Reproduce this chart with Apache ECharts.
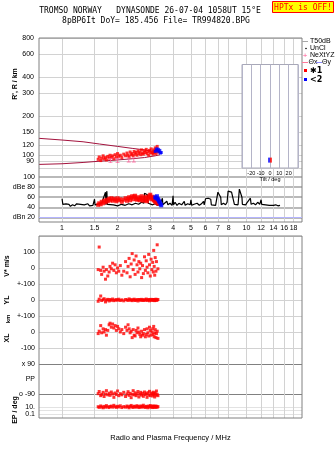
<!DOCTYPE html>
<html>
<head>
<meta charset="utf-8">
<script src="https://cdn.jsdelivr.net/npm/echarts@6/dist/echarts.min.js"></script>
<style>
  html, body { margin: 0; padding: 0; background: #fff; }
  #chart { width: 335px; height: 451px; }
</style>
</head>
<body>
<div id="chart"></div>
<script>
// axis ticks
const freqTicks = [1, 1.5, 2, 3, 4, 5, 6, 7, 8, 10, 12, 14, 16, 18];
const rangeTicks = [80, 90, 100, 120, 150, 200, 300, 400, 600, 800];
const ampTicks = [20, 40, 60, 80, 100];

// model curves in the R panel
const curveFreq = [0.75, 1.0, 1.3, 1.6, 2.0, 2.4, 2.8, 3.2, 3.4];
const upperCurveR = [135, 131, 127, 122, 117, 113, 110, 107, 106];
const lowerCurveR = [85, 86, 88, 90, 92, 94, 96, 99, 101];

// echoes of trace 1 (red)
const echoFreq = [
  1.57, 1.59, 1.62, 1.64, 1.67, 1.69, 1.72, 1.74, 1.77, 1.80,
  1.82, 1.85, 1.88, 1.91, 1.94, 1.97, 2.00, 2.03, 2.07, 2.11,
  2.16, 2.21, 2.25, 2.28, 2.31, 2.34, 2.37, 2.40, 2.43, 2.46,
  2.49, 2.52, 2.55, 2.58, 2.61, 2.64, 2.67, 2.70, 2.73, 2.76,
  2.80, 2.83, 2.86, 2.89, 2.92, 2.95, 2.98, 3.01, 3.04, 3.07,
  3.10, 3.12, 3.14, 3.16, 3.18, 3.20, 3.23, 3.25, 3.28, 3.31
];
const echoRange = [
  93, 97, 91, 95, 99, 94, 96, 92, 98, 95,
  100, 96, 99, 94, 101, 97, 103, 98, 100, 96,
  102, 99, 104, 100, 97, 106, 101, 103, 99, 107,
  102, 105, 100, 108, 103, 106, 101, 110, 104, 102,
  108, 105, 111, 103, 107, 100, 109, 105, 112, 104,
  106, 102, 110, 105, 108, 114, 103, 109, 117, 106
];
const echoAmp = [
  45, 48, 46, 51, 48, 53, 50, 55, 52, 57,
  54, 58, 53, 57, 55, 52, 58, 54, 56, 51,
  55, 58, 53, 57, 60, 54, 59, 62, 56, 61,
  63, 57, 55, 60, 56, 54, 59, 62, 55, 53,
  58, 61, 54, 52, 57, 60, 63, 65, 59, 56,
  61, 57, 54, 58, 53, 51, 56, 49, 54, 47
];
const vstar = [
  -10, 131, -15, -40, 5, -20, -70, -10, -50, -25,
  10, -5, 30, -15, 20, -30, 0, -20, 15, -45,
  -20, 40, -30, 10, 60, -55, 25, 90, -10, 50,
  -40, 75, 20, -25, 40, -5, 30, -60, 15, -35,
  70, -15, 45, 5, -30, 85, 20, -50, 55, -10,
  35, -25, 110, 10, -45, 65, -20, 40, 145, -5
];
const yl = [
  -8, 5, 25, -3, 2, 8, -12, 0, 4, -6,
  3, -2, 6, -4, 0, 2, -1, 5, -3, 1,
  -5, 3, 0, -2, 7, -1, 2, -4, 1, 5,
  -3, 0, 2, -6, 3, 1, -2, 4, 0, -3,
  2, -1, 6, -2, 0, 3, -5, 1, 4, -2,
  0, 3, -1, 2, -4, 1, 5, -2, 0, 3
];
const xl = [
  -10, 5, 40, -5, 20, 0, 15, -20, 10, 45,
  55, 30, 50, 25, 40, 10, 35, 20, 0, 15,
  -10, 30, 10, 45, 20, -5, 5, -35, 15, -20,
  -25, 10, -5, 25, 0, -15, -30, 5, -20, -10,
  15, -30, -15, 20, -5, -25, 30, 10, -20, 0,
  20, -15, 35, -30, -5, 15, -35, -10, 5, -40
];
const pp = [
  -88, -75, -100, -92, -80, -105, -90, -70, -95, -85,
  -98, -78, -90, -110, -84, -93, -72, -100, -88, -95,
  -80, -105, -90, -76, -98, -86, -112, -92, -70, -95,
  -83, -100, -89, -75, -108, -91, -80, -97, -86, -104,
  -78, -93, -88, -110, -82, -96, -74, -100, -90, -85,
  -102, -79, -94, -88, -108, -83, -97, -72, -92, -100
];
const ep = [
  12, 8, 20, 10, 6, 15, 9, 25, 11, 7,
  14, 18, 9, 30, 12, 8, 16, 10, 22, 7,
  13, 9, 19, 11, 6, 15, 28, 10, 8, 17,
  12, 9, 24, 14, 7, 11, 20, 9, 13, 32,
  10, 8, 16, 12, 6, 18, 11, 26, 9, 14,
  7, 21, 12, 10, 15, 8, 19, 11, 9, 13
];

// echoes of trace 2 (blue)
const ray2Freq = [3.20, 3.24, 3.27, 3.30, 3.33, 3.36, 3.39, 3.42, 3.45];
const ray2Range = [107, 110, 112, 108, 111, 106, 109, 104, 105];
const ray2Amp = [60, 58, 62, 57, 55, 52, 50, 46, 44];

// NeXtYZ markers
const nexFreq = [1.83, 2.0, 2.3, 2.45];
const nexRange = [91, 91, 92, 92];

// trace labels
const traceLabelFreq = [2.55, 3.5];
const traceLabelRange = [96, 101];
const traceLabelText = ['\u27311', '<2'];

// tilt inset
const tiltRed = [1];
const tiltBlue = [-1];
const tiltRange = [92];

// amplitude trace (black)
const noiseFreq = [
  1.00, 1.01, 1.03, 1.05, 1.07, 1.09, 1.11, 1.14, 1.17, 1.20,
  1.23, 1.26, 1.29, 1.32, 1.35, 1.38, 1.41, 1.44, 1.47, 1.50,
  1.51, 1.54, 1.57, 1.60, 1.64, 1.68, 1.72, 1.73, 1.75, 1.76,
  1.80, 1.90, 2.00, 2.10, 2.20, 2.30, 2.40, 2.50, 2.60, 2.70,
  2.78, 2.80, 2.86, 2.90, 2.93, 3.00, 3.10, 3.20, 3.30, 3.40,
  3.50, 3.52, 3.60, 3.70, 3.75, 3.85, 3.95, 4.00, 4.02, 4.10,
  4.20, 4.30, 4.45, 4.60, 4.65, 4.80, 4.95, 5.00, 5.05, 5.20,
  5.40, 5.55, 5.70, 5.85, 5.90, 6.00, 6.20, 6.40, 6.45, 6.60,
  6.80, 6.95, 7.00, 7.10, 7.25, 7.30, 7.50, 7.70, 7.85, 7.95,
  8.10, 8.30, 8.50, 8.60, 8.80, 9.00, 9.15, 9.30, 9.45, 9.50,
  9.70, 9.90, 10.1, 10.3, 10.5, 10.6, 10.9, 11.2, 11.5, 11.8,
  12.0, 12.1, 12.4, 12.7, 13.0, 13.3, 13.6, 14.0, 14.4, 14.8, 15.2
];
const noiseDb = [
  57, 46, 43, 47, 44, 46, 42, 45, 43, 47,
  44, 46, 43, 45, 44, 47, 43, 46, 44, 56,
  45, 43, 46, 44, 48, 45, 70, 45, 72, 46,
  44, 45, 43, 46, 44, 47, 45, 48, 46, 50,
  48, 68, 67, 65, 48, 46, 45, 47, 44, 46,
  58, 45, 47, 52, 45, 48, 44, 63, 45, 50,
  44, 48, 45, 52, 44, 47, 45, 55, 44, 46,
  48, 44, 47, 52, 45, 57, 58, 56, 45, 47,
  44, 47, 70, 73, 60, 45, 48, 45, 50, 72,
  71, 70, 72, 46, 48, 45, 76, 73, 60, 46,
  48, 45, 50, 47, 58, 46, 48, 45, 50, 46,
  55, 46, 48, 45, 47, 44, 46, 44, 45, 43, 44
];

const pts = (xs, ys) => xs.map((x, i) => [x, ys[i]]);

const FONT = 'Liberation Sans';
const GRID_L = 39, GRID_W = 263;
const LIGHT = '#d2d2d2';
const DARK = '#808080';

function freqAxis(gridIndex, labelPos, showLabel, extra) {
  return Object.assign({
    type: 'log', logBase: 10, gridIndex, min: 0.75, max: 20,
    position: labelPos,
    axisLine: { show: false },
    axisTick: { show: false, customValues: freqTicks },
    axisLabel: {
      show: showLabel, customValues: freqTicks, margin: 3,
      fontFamily: FONT, fontSize: 7, color: '#000',
      formatter: v => String(Math.round(v * 10) / 10)
    },
    splitLine: { show: true, lineStyle: { color: LIGHT, width: 1 } }
  }, extra || {});
}

function valAxis(gridIndex, type, min, max, lines, labels, fmt, lineColor, lineWidth) {
  return {
    type, gridIndex, min, max,
    axisLine: { show: false },
    axisTick: { show: false, customValues: lines },
    axisLabel: {
      show: labels.length > 0, customValues: labels, margin: 4,
      fontFamily: FONT, fontSize: 7, color: '#000',
      formatter: fmt || (v => String(v))
    },
    splitLine: { show: true, lineStyle: { color: lineColor || LIGHT, width: lineWidth || 1 } }
  };
}

const grids = [
  { left: GRID_L, top: 38, width: GRID_W, height: 139 },   // 0 R
  { left: GRID_L, top: 177, width: GRID_W, height: 45 },   // 1 amplitude
  { left: 242, top: 64.5, width: 56, height: 103.5, show: true, backgroundColor: '#fff', borderColor: '#a8a8b8', borderWidth: 1, z: 2 }, // 2 tilt
  { left: GRID_L, top: 236, width: GRID_W, height: 48 },   // 3 V*
  { left: GRID_L, top: 284, width: GRID_W, height: 32 },   // 4 YL
  { left: GRID_L, top: 316, width: GRID_W, height: 48 },   // 5 XL
  { left: GRID_L, top: 364, width: GRID_W, height: 40 },   // 6 PP
  { left: GRID_L, top: 404, width: GRID_W, height: 14 },   // 7 EP
  { left: GRID_L, top: 38, width: GRID_W, height: 184, show: true, borderColor: DARK, borderWidth: 1, backgroundColor: 'transparent', z: 5 },
  { left: GRID_L, top: 236, width: GRID_W, height: 182, show: true, borderColor: DARK, borderWidth: 1, backgroundColor: 'transparent', z: 5 }
].map(g => Object.assign({ outerBoundsMode: 'none' }, g));

const xAxes = [
  freqAxis(0, 'top', true, { axisLabel: Object.assign(freqAxis(0).axisLabel, { margin: 2 }) }),
  freqAxis(1, 'bottom', true),
  {
    type: 'value', gridIndex: 2, min: -30, max: 30, interval: 10, z: 3,
    axisLine: { show: false }, axisTick: { show: false },
    axisLabel: { showMinLabel: false, showMaxLabel: false, margin: 2, fontFamily: FONT, fontSize: 5.5, color: '#000' },
    splitLine: { show: true, lineStyle: { color: '#b4b4c8', width: 1 } },
    name: 'Tilt / deg', nameLocation: 'middle', nameGap: 8,
    nameTextStyle: { fontFamily: FONT, fontSize: 5.5, color: '#000' }
  },
  freqAxis(3, 'bottom', false),
  freqAxis(4, 'bottom', false),
  freqAxis(5, 'bottom', false),
  freqAxis(6, 'bottom', false),
  freqAxis(7, 'bottom', true, {
    axisLabel: Object.assign(freqAxis(7).axisLabel, { margin: 4 }),
    name: 'Radio and Plasma Frequency / MHz', nameLocation: 'middle', nameGap: 16,
    nameTextStyle: { fontFamily: FONT, fontSize: 7.5, color: '#000' }
  }),
  { type: 'value', gridIndex: 8, show: false },
  { type: 'value', gridIndex: 9, show: false }
];

const yAxes = [
  valAxis(0, 'log', 68, 800, rangeTicks, rangeTicks),
  valAxis(1, 'value', 11, 100, ampTicks, ampTicks,
    v => (v === 80 ? 'dBe 80' : v === 20 ? 'dBn 20' : String(v)), '#a2a2a2', 1.5),
  { type: 'log', gridIndex: 2, min: 80, max: 500, show: false },
  valAxis(3, 'value', -100, 200, [200, 100, 0], [100, 0]),
  valAxis(4, 'value', -100, 100, [100, 0, -100], [100, 0], v => (v === 100 ? '+-100' : String(v))),
  valAxis(5, 'value', -200, 100, [100, 0, -100], [100, 0, -100], v => (v === 100 ? '+-100' : String(v))),
  valAxis(6, 'value', -150, 90, [90, -90], [90, 0, -90],
    v => (v === 90 ? 'x 90' : v === 0 ? 'PP' : 'o -90'), DARK, 1),
  valAxis(7, 'log', 0.0072, 72, [10, 1, 0.1], [10, 0.1], v => (v >= 1 ? '10.' : '0.1'), '#e2e2e2', 1),
  { type: 'value', gridIndex: 8, show: false },
  { type: 'value', gridIndex: 9, show: false }
];
// the R panel labels sit slightly further out
yAxes[0].axisLabel.margin = 5;

function dots(xi, data, color, size, extra) {
  return Object.assign({
    type: 'scatter', xAxisIndex: xi, yAxisIndex: xi, data,
    symbol: 'rect', symbolSize: size || 3, silent: true,
    itemStyle: { color }, z: 4
  }, extra || {});
}

const series = [
  { type: 'line', xAxisIndex: 0, yAxisIndex: 0, data: pts(curveFreq, upperCurveR), symbol: 'none',
    lineStyle: { color: '#a3123d', width: 1 }, silent: true, z: 3 },
  { type: 'line', xAxisIndex: 0, yAxisIndex: 0, data: pts(curveFreq, lowerCurveR), symbol: 'none',
    lineStyle: { color: '#a3123d', width: 1 }, silent: true, z: 3 },
  dots(0, pts(echoFreq, echoRange), '#ff0000', 3),
  dots(0, pts(ray2Freq, ray2Range), '#0000ff', 3),
  dots(0, pts(nexFreq, nexRange), '#ff5a96', [4, 5], { symbol: 'path://M0,0H4V1H2.5V5H4V6H0V5H1.5V1H0Z' }),
  {
    type: 'scatter', xAxisIndex: 0, yAxisIndex: 0, symbol: 'none', silent: true, z: 5,
    data: traceLabelFreq.map((f, i) => ({ value: [f, traceLabelRange[i]], name: traceLabelText[i] })),
    label: { show: true, position: 'inside', align: 'left', formatter: p => p.name,
      fontFamily: 'DejaVu Sans', fontSize: 8, fontWeight: 'bold', color: '#000' }
  },
  { type: 'line', xAxisIndex: 1, yAxisIndex: 1, data: pts(noiseFreq, noiseDb), symbol: 'none',
    lineStyle: { color: '#000', width: 1.2 }, silent: true, z: 3,
    markLine: { silent: true, symbol: 'none', label: { show: false },
      lineStyle: { color: '#b4b4ff', type: 'solid', width: 1 }, data: [{ yAxis: 20 }] } },
  dots(1, pts(echoFreq, echoAmp), '#ff0000', 4),
  dots(1, pts(ray2Freq, ray2Amp), '#0000ff', 4),
  dots(2, pts(tiltBlue, tiltRange), '#0000ff', [2, 5], { z: 6 }),
  dots(2, pts(tiltRed, tiltRange), '#ff0000', [2, 5], { z: 6 }),
  dots(3, pts(echoFreq, vstar), '#ff0000', 3),
  dots(4, pts(echoFreq, yl), '#ff0000', 3),
  dots(5, pts(echoFreq, xl), '#ff0000', 3),
  dots(6, pts(echoFreq, pp), '#ff0000', 3),
  dots(7, pts(echoFreq, ep), '#ff0000', 3)
];

function txt(x, y, text, opts) {
  return Object.assign({
    type: 'text', x, y, z: 10, silent: true,
    style: Object.assign({ text, font: '7px "Liberation Sans"', fill: '#000', align: 'left', verticalAlign: 'middle' },
      (opts && opts.style) || {})
  }, opts && opts.rotation !== undefined ? { rotation: opts.rotation } : {});
}
const MONO = '8px "DejaVu Sans Mono"';
const ROT = Math.PI / 2;

const graphic = [
  txt(150, 11, 'TROMSO NORWAY   DYNASONDE 26-07-04 1058UT 15\u00b0E', { style: { font: MONO, align: 'center' } }),
  txt(156, 21, '8pBP6It DoY= 185.456 File= TR994820.BPG', { style: { font: MONO, align: 'center' } }),
  { type: 'rect', z: 10, silent: true, shape: { x: 272.5, y: 1.5, width: 61, height: 11 },
    style: { fill: '#ffff00', stroke: '#ff0000', lineWidth: 1 } },
  txt(303, 7.5, 'HPTx is OFF!', { style: { font: MONO, fill: '#ff0000', align: 'center' } }),
  // legend
  { type: 'line', z: 10, silent: true, shape: { x1: 302, y1: 41.5, x2: 308, y2: 41.5 }, style: { stroke: '#a8a8a8', lineWidth: 1 } },
  txt(310, 41.5, 'T50dB'),
  { type: 'circle', z: 10, silent: true, shape: { cx: 306, cy: 48.5, r: 0.8 }, style: { fill: '#000' } },
  txt(310, 48.5, 'UnCl'),
  txt(305, 55.5, '+', { style: { fill: '#ff5a96', align: 'center', font: '8px "Liberation Sans"' } }),
  txt(310, 55.5, 'NeXtYZ'),
  { type: 'line', z: 10, silent: true, shape: { x1: 302, y1: 62.5, x2: 308, y2: 62.5 }, style: { stroke: '#ff7a9a', lineWidth: 1 } },
  txt(308.5, 62.5, '\u0398x'),
  { type: 'line', z: 10, silent: true, shape: { x1: 316, y1: 62.5, x2: 322, y2: 62.5 }, style: { stroke: '#8c8cff', lineWidth: 1 } },
  txt(322, 62.5, '\u0398y'),
  { type: 'rect', z: 10, silent: true, shape: { x: 304, y: 69, width: 3, height: 3 }, style: { fill: '#ff0000' } },
  txt(310, 70.5, '\u27311', { style: { font: 'bold 8px "DejaVu Sans"' } }),
  { type: 'rect', z: 10, silent: true, shape: { x: 304, y: 78, width: 3, height: 3 }, style: { fill: '#0000ff' } },
  txt(310, 79.5, '<2', { style: { font: 'bold 8px "DejaVu Sans"' } }),
  // rotated axis titles
  txt(15, 84, "R', R / km", { rotation: ROT, style: { align: 'center', font: 'bold 7px "Liberation Sans"' } }),
  txt(7, 266, 'V* m/s', { rotation: ROT, style: { align: 'center', font: 'bold 7px "Liberation Sans"' } }),
  txt(7, 300, 'YL', { rotation: ROT, style: { align: 'center', font: 'bold 7px "Liberation Sans"' } }),
  txt(8, 319, 'km', { rotation: ROT, style: { align: 'center', font: 'bold 6px "Liberation Sans"' } }),
  txt(7, 338, 'XL', { rotation: ROT, style: { align: 'center', font: 'bold 7px "Liberation Sans"' } }),
  txt(15, 410, 'EP / deg', { rotation: ROT, style: { align: 'center', font: 'bold 7px "Liberation Sans"' } })
];

const chart = echarts.init(document.getElementById('chart'), null, { renderer: 'canvas' });
chart.setOption({
  animation: false,
  backgroundColor: '#fff',
  grid: grids,
  xAxis: xAxes,
  yAxis: yAxes,
  series,
  graphic
});
</script>
</body>
</html>
